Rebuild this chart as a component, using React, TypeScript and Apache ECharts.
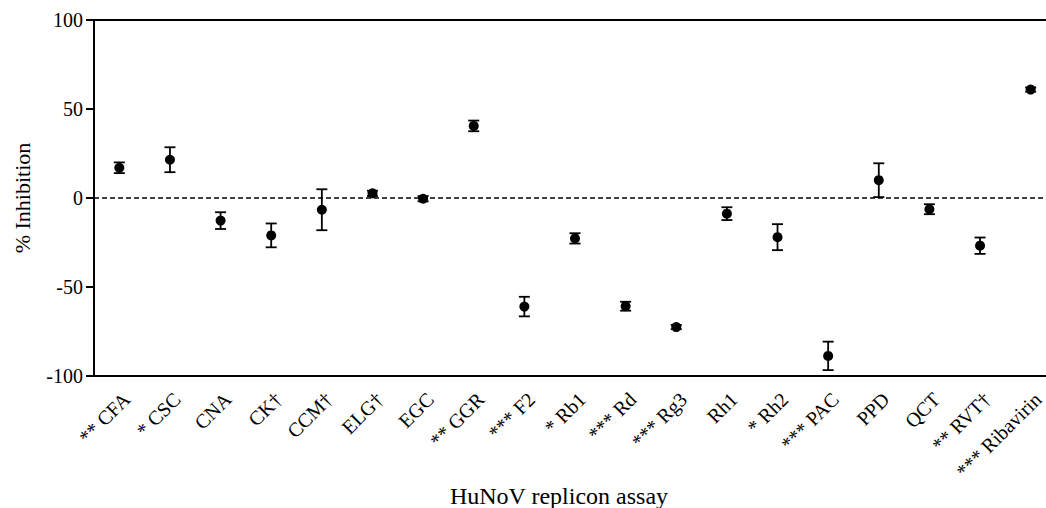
import React, { useEffect, useRef } from "react";
import * as echarts from "echarts";

const categories = [
  "** CFA", "* CSC", "CNA", "CK†", "CCM†", "ELG†", "EGC", "** GGR", "*** F2", "* Rb1",
  "*** Rd", "*** Rg3", "Rh1", "* Rh2", "*** PAC", "PPD", "QCT", "** RVT†", "*** Ribavirin",
];
const means = [17, 21.5, -12.7, -21, -6.6, 2.6, -0.4, 40.5, -61, -22.7, -60.8, -72.5, -8.8, -22, -88.7, 10, -6.3, -26.8, 60.9];
const errors = [3, 7, 4.7, 6.7, 11.5, 1.5, 1.5, 3, 5.5, 2.9, 2.5, 1.2, 3.6, 7.3, 8, 9.5, 2.8, 4.6, 1.2];
const baseline = [0];
const yTicks = { min: -100, max: 100, interval: 50 };
const yTitle = "% Inhibition";
const xTitle = "HuNoV replicon assay";

const FONT = "Liberation Serif";

export default function App() {
  const ref = useRef<HTMLDivElement>(null);
  useEffect(() => {
    if (!ref.current) return;
    const chart = echarts.init(ref.current, null, { renderer: "svg" });
    const errData = means.map((m, i) => [i, m - errors[i], m + errors[i]]);
    chart.setOption({
      animation: false,
      backgroundColor: "#fff",
      grid: {
        left: 94,
        top: 20,
        width: 962,
        height: 356,
        show: true,
        borderColor: "#000",
        borderWidth: 2,
        backgroundColor: "transparent",
        containLabel: false,
        outerBoundsMode: "none",
      },
      xAxis: {
        type: "category",
        data: categories,
        boundaryGap: true,
        axisLine: { onZero: false, lineStyle: { color: "#000", width: 2 } },
        axisTick: { alignWithLabel: true, length: 8, lineStyle: { color: "#000", width: 2 } },
        axisLabel: {
          interval: 0,
          rotate: 45,
          margin: 27,
          padding: [0, -10, 0, 0],
          fontFamily: FONT,
          fontSize: 20,
          color: "#000",
          hideOverlap: false,
        },
        splitLine: { show: false },
      },
      yAxis: {
        type: "value",
        min: yTicks.min,
        max: yTicks.max,
        interval: yTicks.interval,
        axisLine: { show: true, lineStyle: { color: "#000", width: 2 } },
        axisTick: { show: true, length: 8, lineStyle: { color: "#000", width: 2 } },
        axisLabel: { margin: 11, fontFamily: FONT, fontSize: 20, color: "#000" },
        splitLine: { show: false },
        z: 5,
      },
      graphic: [
        {
          type: "text",
          x: 22,
          y: 198,
          rotation: Math.PI / 2,
          style: {
            text: yTitle,
            fontFamily: FONT,
            fontSize: 22,
            fill: "#000",
            align: "center",
            verticalAlign: "middle",
          },
        },
        {
          type: "text",
          x: 559,
          y: 496,
          style: {
            text: xTitle,
            fontFamily: FONT,
            fontSize: 24,
            fill: "#000",
            align: "center",
            verticalAlign: "middle",
          },
        },
      ],
      series: [
        {
          type: "custom",
          data: baseline.map((v) => [0, v]),
          z: 2,
          silent: true,
          renderItem: (params: any, api: any) => {
            const cs = params.coordSys;
            const p = api.coord([0, api.value(1)]);
            return {
              type: "line",
              shape: { x1: cs.x, y1: p[1], x2: cs.x + cs.width, y2: p[1] },
              style: { stroke: "#000", lineWidth: 1.4, lineDash: [5, 3] },
            };
          },
        },
        {
          type: "custom",
          data: errData,
          z: 3,
          renderItem: (params: any, api: any) => {
            const i = api.value(0);
            const lo = api.coord([i, api.value(1)]);
            const hi = api.coord([i, api.value(2)]);
            const hw = 5.5;
            const style = { stroke: "#000", lineWidth: 1.8 };
            return {
              type: "group",
              children: [
                { type: "line", shape: { x1: lo[0], y1: lo[1], x2: hi[0], y2: hi[1] }, style },
                { type: "line", shape: { x1: lo[0] - hw, y1: lo[1], x2: lo[0] + hw, y2: lo[1] }, style },
                { type: "line", shape: { x1: hi[0] - hw, y1: hi[1], x2: hi[0] + hw, y2: hi[1] }, style },
              ],
            };
          },
        },
        {
          type: "scatter",
          data: means,
          symbol: "circle",
          symbolSize: 10,
          z: 4,
          itemStyle: { color: "#000", opacity: 1 },
        },
      ],
    });
    return () => chart.dispose();
  }, []);
  return (
    <div
      ref={ref}
      style={{ position: "absolute", left: 0, top: 0, width: 1046, height: 508, overflow: "hidden" }}
    />
  );
}
